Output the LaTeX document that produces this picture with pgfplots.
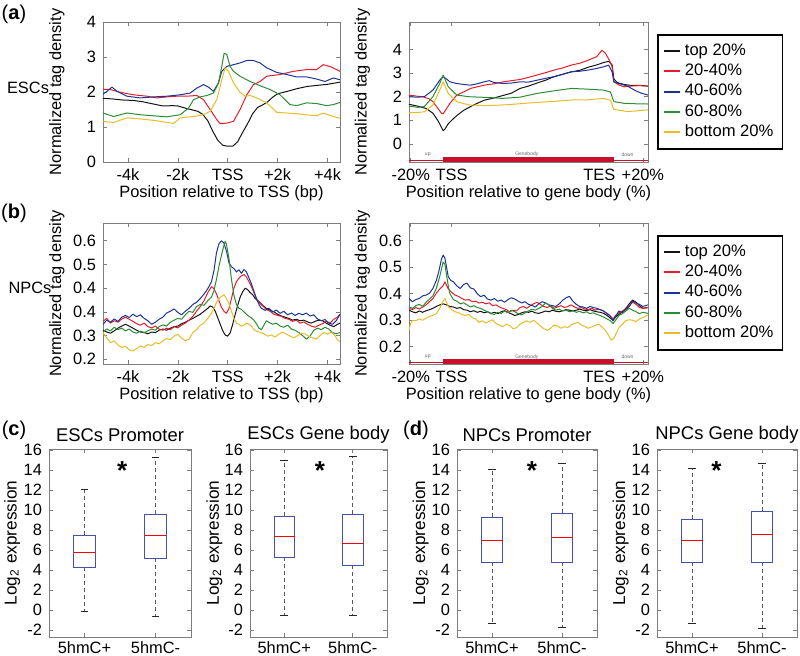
\documentclass[border=0pt]{standalone}
\usepackage{pgfplots}
\pgfplotsset{compat=1.18}
\usepgfplotslibrary{statistics}
\usepackage{fontspec}
\setmainfont{Liberation Sans}
\definecolor{cblk}{RGB}{20,20,20}
\definecolor{cred}{RGB}{226,30,42}
\definecolor{cblu}{RGB}{28,52,150}
\definecolor{cgrn}{RGB}{44,140,52}
\definecolor{cyel}{RGB}{232,188,40}
\definecolor{cbar}{RGB}{200,16,40}
\definecolor{cbox}{RGB}{70,82,170}
\definecolor{cframe}{RGB}{125,125,125}
\newcommand\fs{\fontsize{8.2}{9.6}\selectfont}
\pgfplotsset{
  base/.style={scale only axis, axis line style={cframe, line width=0.4pt},
    tick style={cframe, line width=0.3pt}, major tick length=2pt, tick align=inside,
    tick label style={font=\fs},
    /pgf/number format/assume math mode=true,
    every axis x label/.style={at={(axis description cs:0.5,-0.22)}, anchor=center, font=\fs},
    every axis y label/.style={at={(axis description cs:-0.195,0.5)}, anchor=center, rotate=90, font=\fs},
  },
  tss/.style={base, width=118.5pt, xmin=-5000, xmax=4500,
    xtick={-4000,-2000,0,2000,4000}, xticklabels={-4k,-2k,TSS,+2k,+4k},
    xlabel={Position relative to TSS (bp)}, ylabel={Normalized tag density}},
  gb/.style={base, width=119.5pt, xmin=-20, xmax=120,
    xtick={-19,5,91.5,117}, xticklabels={-20\%,TSS,TES,+20\%},
    xlabel={Position relative to gene body (\%)}, ylabel={Normalized tag density},
    legend cell align=left,
    legend style={at={(1,1)}, anchor=north west, xshift=4.5pt, yshift=-6pt, draw=black, line width=0.9pt,
      font=\fontsize{8.3}{9.5}\selectfont, inner xsep=2.5pt, inner ysep=2.5pt, row sep=-1.2pt},
    legend image code/.code={\draw[#1, line width=1pt] (0pt,0pt) -- (8pt,0pt);}},
  ln/.style={line width=0.5pt, line join=round},
  bxp/.style={base, height=94pt, xmin=0.5, xmax=2.5, ymin=-2.7, ymax=16.1,
    xtick={1,2}, xticklabels={5hmC+,5hmC-}, ytick={-2,0,2,4,6,8,10,12,14,16},
    yticklabels={-2,0,2,4,6,8,10,12,14,16},
    xticklabel style={yshift=1pt},
    ylabel={Log\textsubscript{2} expression},
    every axis y label/.style={at={(axis description cs:-0.26,0.5)}, anchor=center, rotate=90, font=\fontsize{8.6}{10}\selectfont},
    every axis title/.style={at={(0.5,1.074)}, anchor=center, font=\fontsize{9.2}{11}\selectfont},
    boxplot/draw direction=y,
    boxplot/every box/.style={draw=cbox, line width=0.45pt},
    boxplot/every median/.style={draw=red, line width=0.5pt},
    boxplot/every whisker/.style={draw=black!65, line width=0.45pt, dash pattern=on 2pt off 1.5pt}},
  cap/.style={black!85, line width=0.45pt},
}
\begin{document}
\begin{tikzpicture}
\path[use as bounding box] (0pt,0pt) rectangle (400pt,-328pt);
\node[font=\fontsize{10}{12}\selectfont] at (7pt,-7pt) {(\textbf{a})};
\node[font=\fontsize{10}{12}\selectfont] at (7pt,-106.5pt) {(\textbf{b})};
\node[font=\fontsize{10}{12}\selectfont] at (7pt,-215pt) {(\textbf{c})};
\node[font=\fontsize{10}{12}\selectfont] at (208pt,-215pt) {(\textbf{d})};
\node[font=\fs] at (14pt,-44pt) {ESCs};
\node[font=\fs] at (15pt,-144pt) {NPCs};

% ---------------- (a) left
\begin{axis}[tss, at={(51.5pt,-11pt)}, anchor=north west, height=70pt, ymin=0, ymax=4, ytick={0,1,2,3,4}]
\addplot[ln, cblk] coordinates {(-5000,1.82) (-4600,1.80) (-4200,1.77) (-3800,1.76) (-3400,1.72) (-3000,1.66) (-2600,1.60) (-2200,1.61) (-2000,1.60) (-1600,1.52) (-1200,1.45) (-1000,1.36) (-800,1.18) (-600,0.88) (-400,0.62) (-200,0.48) (0,0.45) (200,0.45) (400,0.58) (600,0.85) (800,1.10) (1000,1.38) (1200,1.56) (1400,1.63) (1600,1.72) (1800,1.85) (2000,1.95) (2400,2.02) (2800,2.10) (3200,2.16) (3600,2.19) (4000,2.22) (4500,2.28)};
\addplot[ln, cred] coordinates {(-5000,2.08) (-4707,2.07) (-4306,1.99) (-3773,1.92) (-3239,1.88) (-2839,1.83) (-2439,1.86) (-2039,1.88) (-1638,1.88) (-1238,1.90) (-971,1.78) (-705,1.50) (-438,1.21) (-304,1.10) (-38,1.11) (229,1.16) (496,1.50) (763,1.92) (1030,2.21) (1296,2.30) (1563,2.45) (2097,2.50) (2630,2.59) (3164,2.64) (3564,2.64) (3831,2.78) (4098,2.73) (4365,2.64) (4498,2.59)};
\addplot[ln, cblu] coordinates {(-5000,1.94) (-4840,2.02) (-4640,2.14) (-4440,2.02) (-4040,1.88) (-3506,1.83) (-2972,1.86) (-2439,1.88) (-1905,1.92) (-1505,1.97) (-1238,2.11) (-971,2.21) (-771,2.14) (-571,2.02) (-371,2.26) (-238,2.59) (-38,2.73) (229,2.78) (496,2.83) (763,2.90) (1030,2.90) (1296,2.83) (1563,2.69) (1963,2.56) (2364,2.50) (2764,2.43) (3164,2.43) (3564,2.37) (3898,2.30) (4231,2.40) (4498,2.35)};
\addplot[ln, cgrn] coordinates {(-5000,1.40) (-4573,1.30) (-4040,1.40) (-3506,1.35) (-2972,1.32) (-2439,1.29) (-1905,1.35) (-1572,1.54) (-1372,1.78) (-1105,1.86) (-838,1.90) (-571,1.97) (-371,2.26) (-238,2.73) (-144,3.11) (-38,3.07) (96,2.73) (229,2.59) (496,2.45) (896,2.30) (1296,2.18) (1697,2.07) (2097,1.92) (2497,1.64) (2764,1.61) (3164,1.69) (3564,1.67) (3964,1.61) (4231,1.64) (4498,1.70)};
\addplot[ln, cyel] coordinates {(-5000,1.16) (-4573,1.13) (-4040,1.26) (-3506,1.23) (-2972,1.19) (-2439,1.13) (-2172,1.10) (-1905,1.26) (-1372,1.30) (-971,1.35) (-705,1.45) (-438,1.78) (-238,2.35) (-104,2.69) (29,2.59) (229,2.26) (496,1.99) (696,1.88) (896,1.90) (1163,1.83) (1563,1.69) (1963,1.42) (2364,1.40) (2764,1.38) (3164,1.35) (3564,1.32) (3831,1.40) (4231,1.30) (4498,1.25)};
\end{axis}

% ---------------- (a) right
\begin{axis}[gb, at={(204.5pt,-11pt)}, anchor=north west, height=70pt, ymin=-0.77, ymax=5.17, ytick={0,1,2,3,4}]
\addplot[ln, cblk] coordinates {(-20,1.68) (-15,1.60) (-10,1.50) (-6,1.30) (-3,0.98) (-1,0.70) (0,0.56) (1,0.62) (3,0.85) (5,1.0) (8,1.20) (12,1.42) (16,1.58) (20,1.72) (24,1.85) (30,1.95) (35,2.05) (40,2.15) (45,2.35) (50,2.45) (55,2.58) (60,2.70) (65,2.85) (70,2.95) (75,3.05) (80,3.12) (85,3.25) (90,3.35) (94,3.45) (97,3.50) (99,3.35) (100,2.75) (102,2.60) (106,2.52) (110,2.48) (115,2.48) (120,2.45)};
\addlegendentry{top 20\%}
\addplot[ln, cred] coordinates {(-20,2.07) (-15,2.02) (-12,2.00) (-8,1.90) (-6,1.79) (-3,1.50) (-1,1.30) (0,1.27) (2,1.50) (4,1.72) (8,2.07) (12,2.20) (16,2.35) (20,2.42) (24,2.49) (30,2.55) (35,2.63) (40,2.68) (45,2.73) (50,2.82) (55,2.92) (60,3.02) (65,3.13) (70,3.22) (75,3.34) (80,3.42) (85,3.55) (90,3.70) (93,3.97) (95,3.85) (97,3.60) (99,3.27) (100,2.63) (103,2.50) (106,2.42) (110,2.45) (115,2.47) (120,2.45)};
\addlegendentry{20-40\%}
\addplot[ln, cblu] coordinates {(-20,2.00) (-15,1.98) (-11,2.00) (-6,2.28) (-2,2.70) (0,2.85) (2,2.75) (4,2.63) (8,2.56) (12,2.52) (16,2.49) (20,2.55) (24,2.63) (27,2.68) (30,2.60) (35,2.56) (40,2.58) (45,2.63) (50,2.62) (55,2.70) (60,2.78) (65,2.85) (70,2.95) (75,3.06) (80,3.08) (85,3.13) (90,3.20) (94,3.27) (97,3.34) (99,3.05) (100,2.63) (103,2.56) (108,2.45) (112,2.28) (116,2.15) (120,2.07)};
\addlegendentry{40-60\%}
\addplot[ln, cgrn] coordinates {(-20,1.60) (-15,1.55) (-11,1.58) (-6,2.00) (-2,2.56) (0,2.92) (3,2.42) (8,2.07) (15,2.00) (25,1.97) (35,1.93) (45,1.98) (55,2.14) (65,2.25) (75,2.35) (85,2.32) (94,2.28) (98,2.20) (100,1.79) (106,1.72) (113,1.70) (120,1.69)};
\addlegendentry{60-80\%}
\addplot[ln, cyel] coordinates {(-20,1.32) (-15,1.33) (-11,1.36) (-6,1.65) (-2,2.28) (0,2.63) (3,2.14) (8,1.79) (15,1.65) (25,1.62) (35,1.65) (45,1.70) (55,1.76) (65,1.80) (75,1.86) (85,1.87) (94,1.93) (98,1.85) (100,1.46) (108,1.37) (114,1.40) (120,1.44)};
\addlegendentry{bottom 20\%}
\addplot[cbar, line width=0.6pt, forget plot] coordinates {(-20,-0.70) (120,-0.70)};
\addplot[cbar, line width=3pt, forget plot] coordinates {(0,-0.68) (100,-0.68)};
\node[font=\fontsize{2.5}{3}\selectfont, text=black!60] at (axis cs:-9,-0.45) {up};
\node[font=\fontsize{2.5}{3}\selectfont, text=black!60] at (axis cs:49,-0.45) {Genebody};
\node[font=\fontsize{2.5}{3}\selectfont, text=black!60] at (axis cs:108,-0.45) {down};
\end{axis}

% ---------------- (b) left
\begin{axis}[tss, at={(51.5pt,-111.5pt)}, anchor=north west, height=70.5pt, ymin=0.184, ymax=0.66,
  ytick={0.2,0.28,0.36,0.44,0.52,0.6}, yticklabels={0.2,0.3,0.4,0.4,0.5,0.6}]
\addplot[ln, cblk] coordinates {(-5000,0.298) (-4850,0.292) (-4700,0.288) (-4550,0.296) (-4400,0.305) (-4250,0.312) (-4100,0.318) (-3950,0.312) (-3800,0.305) (-3650,0.298) (-3500,0.292) (-3350,0.290) (-3200,0.286) (-3050,0.292) (-2900,0.290) (-2750,0.298) (-2600,0.302) (-2450,0.298) (-2300,0.305) (-2150,0.310) (-2000,0.312) (-1850,0.320) (-1700,0.325) (-1550,0.332) (-1400,0.338) (-1250,0.345) (-1100,0.352) (-950,0.362) (-800,0.372) (-700,0.380) (-600,0.376) (-500,0.362) (-400,0.340) (-300,0.318) (-200,0.296) (-100,0.282) (0,0.278) (100,0.290) (200,0.318) (300,0.352) (400,0.382) (500,0.410) (600,0.428) (700,0.440) (800,0.435) (900,0.425) (1000,0.418) (1100,0.405) (1250,0.395) (1400,0.382) (1550,0.372) (1700,0.365) (1850,0.360) (2000,0.352) (2150,0.346) (2300,0.342) (2450,0.338) (2600,0.332) (2750,0.335) (2900,0.330) (3050,0.332) (3200,0.326) (3350,0.322) (3500,0.328) (3650,0.332) (3800,0.330) (3950,0.322) (4100,0.315) (4250,0.310) (4400,0.318) (4500,0.322)};
\addplot[ln, cred] coordinates {(-5000,0.328) (-4850,0.338) (-4700,0.322) (-4550,0.330) (-4400,0.325) (-4250,0.336) (-4100,0.342) (-3950,0.335) (-3800,0.328) (-3650,0.320) (-3500,0.315) (-3350,0.322) (-3200,0.310) (-3050,0.306) (-2900,0.312) (-2750,0.302) (-2600,0.298) (-2450,0.305) (-2300,0.300) (-2150,0.310) (-2000,0.306) (-1850,0.315) (-1700,0.322) (-1550,0.332) (-1400,0.345) (-1250,0.362) (-1100,0.378) (-950,0.398) (-800,0.425) (-650,0.445) (-550,0.438) (-450,0.420) (-350,0.398) (-250,0.375) (-150,0.362) (-50,0.355) (50,0.372) (150,0.405) (250,0.440) (350,0.462) (450,0.474) (550,0.482) (650,0.486) (750,0.478) (850,0.462) (950,0.445) (1050,0.425) (1150,0.405) (1250,0.392) (1400,0.380) (1550,0.368) (1700,0.362) (1850,0.352) (2000,0.348) (2150,0.345) (2300,0.338) (2450,0.335) (2600,0.328) (2750,0.332) (2900,0.322) (3050,0.326) (3200,0.318) (3350,0.312) (3500,0.308) (3650,0.315) (3800,0.320) (3950,0.328) (4100,0.322) (4250,0.335) (4400,0.342) (4500,0.352)};
\addplot[ln, cblu] coordinates {(-5000,0.318) (-4850,0.332) (-4700,0.325) (-4550,0.336) (-4400,0.328) (-4250,0.342) (-4100,0.348) (-3950,0.341) (-3800,0.352) (-3650,0.344) (-3500,0.350) (-3350,0.338) (-3200,0.330) (-3050,0.318) (-2900,0.325) (-2750,0.335) (-2600,0.342) (-2450,0.356) (-2300,0.362) (-2150,0.370) (-2000,0.358) (-1850,0.350) (-1700,0.362) (-1550,0.372) (-1400,0.385) (-1250,0.392) (-1100,0.405) (-950,0.420) (-800,0.438) (-650,0.462) (-550,0.500) (-450,0.560) (-350,0.590) (-250,0.600) (-150,0.592) (-50,0.565) (50,0.525) (150,0.512) (250,0.506) (350,0.495) (450,0.502) (550,0.490) (650,0.503) (750,0.495) (850,0.475) (950,0.455) (1050,0.430) (1150,0.405) (1250,0.385) (1350,0.372) (1500,0.365) (1650,0.372) (1800,0.360) (1950,0.366) (2100,0.355) (2250,0.362) (2400,0.350) (2550,0.356) (2700,0.348) (2850,0.355) (3000,0.350) (3150,0.356) (3300,0.346) (3450,0.350) (3600,0.336) (3750,0.330) (3900,0.334) (4050,0.322) (4200,0.318) (4350,0.330) (4500,0.352)};
\addplot[ln, cgrn] coordinates {(-5000,0.292) (-4850,0.302) (-4700,0.296) (-4550,0.308) (-4400,0.300) (-4250,0.305) (-4100,0.296) (-3950,0.302) (-3800,0.292) (-3650,0.288) (-3500,0.295) (-3350,0.290) (-3200,0.296) (-3050,0.302) (-2900,0.298) (-2750,0.310) (-2600,0.316) (-2450,0.312) (-2300,0.325) (-2150,0.332) (-2000,0.338) (-1850,0.335) (-1700,0.350) (-1550,0.362) (-1400,0.358) (-1250,0.378) (-1100,0.385) (-950,0.382) (-800,0.398) (-650,0.410) (-550,0.432) (-450,0.470) (-350,0.515) (-250,0.552) (-150,0.585) (-100,0.598) (-50,0.588) (50,0.540) (150,0.470) (250,0.415) (350,0.385) (450,0.372) (550,0.368) (650,0.360) (750,0.352) (850,0.345) (950,0.340) (1050,0.332) (1150,0.320) (1250,0.305) (1350,0.300) (1450,0.315) (1550,0.330) (1650,0.325) (1800,0.318) (1950,0.322) (2100,0.312) (2250,0.308) (2400,0.315) (2550,0.302) (2700,0.298) (2850,0.290) (3000,0.280) (3150,0.268) (3300,0.278) (3450,0.298) (3600,0.305) (3750,0.300) (3900,0.308) (4050,0.302) (4200,0.290) (4350,0.286) (4500,0.290)};
\addplot[ln, cyel] coordinates {(-5000,0.290) (-4850,0.272) (-4700,0.256) (-4550,0.262) (-4400,0.248) (-4250,0.240) (-4100,0.244) (-3950,0.232) (-3800,0.228) (-3650,0.236) (-3500,0.245) (-3350,0.240) (-3200,0.250) (-3050,0.246) (-2900,0.256) (-2750,0.252) (-2600,0.262) (-2450,0.270) (-2300,0.266) (-2150,0.278) (-2000,0.284) (-1850,0.272) (-1700,0.262) (-1550,0.268) (-1400,0.290) (-1250,0.300) (-1100,0.315) (-950,0.322) (-800,0.338) (-650,0.355) (-550,0.372) (-450,0.392) (-350,0.405) (-250,0.412) (-150,0.418) (-50,0.405) (50,0.388) (150,0.362) (250,0.338) (350,0.322) (450,0.318) (550,0.312) (650,0.315) (750,0.322) (850,0.318) (950,0.312) (1050,0.300) (1150,0.295) (1300,0.290) (1450,0.286) (1600,0.278) (1750,0.282) (1900,0.275) (2050,0.285) (2200,0.292) (2350,0.285) (2500,0.278) (2650,0.272) (2800,0.280) (2950,0.288) (3100,0.285) (3250,0.278) (3400,0.272) (3550,0.268) (3700,0.280) (3850,0.290) (4000,0.285) (4150,0.292) (4300,0.280) (4400,0.265) (4500,0.260)};
\end{axis}

% ---------------- (b) right
\begin{axis}[gb, at={(204.5pt,-111.5pt)}, anchor=north west, height=70.5pt, ymin=0.135, ymax=0.667,
  ytick={0.2,0.3,0.4,0.5,0.6}, yticklabels={0.2,0.3,0.4,0.5,0.6}]
\addplot[ln, cblk] coordinates {(-20,0.338) (-18,0.332) (-16,0.328) (-14,0.335) (-12,0.330) (-10,0.336) (-8,0.340) (-6,0.345) (-4,0.352) (-2,0.358) (0,0.362) (2,0.358) (4,0.352) (6,0.350) (8,0.345) (10,0.348) (12,0.340) (14,0.338) (16,0.332) (18,0.336) (20,0.330) (22,0.334) (24,0.328) (26,0.332) (28,0.326) (30,0.330) (32,0.325) (34,0.332) (36,0.336) (38,0.330) (40,0.324) (42,0.318) (44,0.322) (46,0.328) (48,0.332) (50,0.330) (52,0.334) (54,0.328) (56,0.326) (58,0.330) (60,0.335) (62,0.332) (64,0.338) (66,0.334) (68,0.332) (70,0.336) (72,0.340) (74,0.338) (76,0.335) (78,0.338) (80,0.342) (82,0.338) (84,0.336) (86,0.340) (88,0.335) (90,0.332) (92,0.330) (94,0.326) (96,0.318) (98,0.308) (99.5,0.300) (101,0.312) (103,0.322) (105,0.332) (107,0.345) (109,0.362) (111,0.376) (113,0.368) (115,0.355) (117,0.345) (120,0.348)};
\addlegendentry{top 20\%}
\addplot[ln, cred] coordinates {(-20,0.345) (-18,0.340) (-16,0.348) (-14,0.342) (-12,0.350) (-10,0.358) (-8,0.370) (-6,0.382) (-4,0.402) (-2,0.418) (0,0.430) (1,0.445) (2,0.432) (3,0.418) (5,0.405) (7,0.395) (9,0.390) (11,0.382) (13,0.376) (15,0.378) (17,0.370) (19,0.372) (21,0.365) (23,0.368) (25,0.362) (27,0.366) (29,0.355) (31,0.358) (33,0.350) (35,0.345) (37,0.340) (39,0.332) (41,0.338) (43,0.335) (45,0.348) (47,0.352) (49,0.345) (51,0.355) (53,0.362) (55,0.368) (57,0.360) (59,0.352) (61,0.348) (63,0.355) (65,0.345) (67,0.350) (69,0.355) (71,0.348) (73,0.352) (75,0.358) (77,0.350) (79,0.345) (81,0.348) (83,0.342) (85,0.340) (87,0.345) (89,0.338) (91,0.342) (93,0.338) (95,0.330) (97,0.322) (99.5,0.305) (101,0.318) (103,0.328) (105,0.335) (107,0.342) (109,0.355) (111,0.368) (113,0.360) (115,0.348) (117,0.345) (120,0.348)};
\addlegendentry{20-40\%}
\addplot[ln, cblu] coordinates {(-20,0.382) (-18,0.370) (-16,0.378) (-14,0.382) (-12,0.392) (-10,0.395) (-8,0.402) (-6,0.420) (-4,0.450) (-2.5,0.485) (-1,0.530) (0,0.546) (1,0.535) (2,0.500) (3,0.464) (4.5,0.450) (6,0.445) (8,0.430) (10,0.420) (12,0.435) (14,0.440) (16,0.422) (18,0.418) (20,0.400) (22,0.389) (24,0.395) (26,0.380) (28,0.376) (30,0.382) (32,0.372) (34,0.376) (36,0.368) (38,0.378) (40,0.385) (42,0.380) (44,0.372) (46,0.365) (48,0.370) (50,0.360) (52,0.356) (54,0.350) (56,0.362) (58,0.370) (60,0.365) (62,0.358) (64,0.355) (66,0.352) (68,0.362) (70,0.375) (72,0.385) (74,0.390) (76,0.372) (78,0.360) (80,0.352) (82,0.350) (84,0.345) (86,0.352) (88,0.348) (90,0.345) (92,0.340) (94,0.335) (96,0.325) (98,0.315) (99.5,0.298) (101,0.315) (103,0.335) (105,0.328) (107,0.340) (109,0.352) (111,0.372) (113,0.365) (115,0.360) (117,0.352) (120,0.358)};
\addlegendentry{40-60\%}
\addplot[ln, cgrn] coordinates {(-20,0.351) (-18,0.345) (-16,0.355) (-14,0.360) (-12,0.352) (-10,0.368) (-8,0.380) (-6,0.392) (-4,0.420) (-2,0.465) (0,0.520) (1,0.512) (2,0.470) (3,0.430) (4,0.400) (6,0.378) (8,0.372) (10,0.362) (12,0.366) (14,0.358) (16,0.350) (18,0.355) (20,0.348) (22,0.345) (24,0.338) (26,0.332) (28,0.325) (30,0.322) (32,0.330) (34,0.326) (36,0.335) (38,0.328) (40,0.338) (42,0.332) (44,0.325) (46,0.320) (48,0.328) (50,0.335) (52,0.342) (54,0.338) (56,0.345) (58,0.352) (60,0.365) (62,0.358) (64,0.345) (66,0.338) (68,0.342) (70,0.335) (72,0.338) (74,0.332) (76,0.336) (78,0.330) (80,0.334) (82,0.328) (84,0.332) (86,0.325) (88,0.328) (90,0.322) (92,0.318) (94,0.312) (96,0.305) (98,0.298) (99.5,0.288) (101,0.300) (103,0.318) (105,0.325) (107,0.335) (109,0.345) (111,0.338) (113,0.332) (115,0.325) (117,0.330) (120,0.326)};
\addlegendentry{60-80\%}
\addplot[ln, cyel] coordinates {(-20,0.262) (-19,0.290) (-18,0.300) (-16,0.298) (-14,0.305) (-12,0.300) (-10,0.308) (-8,0.315) (-6,0.318) (-4,0.325) (-2,0.345) (0,0.372) (1,0.382) (2,0.368) (3,0.352) (5,0.340) (7,0.332) (9,0.328) (11,0.322) (13,0.318) (15,0.322) (17,0.310) (19,0.305) (21,0.292) (23,0.298) (25,0.290) (27,0.296) (29,0.302) (31,0.288) (33,0.282) (35,0.276) (37,0.285) (39,0.280) (41,0.268) (43,0.272) (45,0.285) (47,0.292) (49,0.298) (51,0.292) (53,0.300) (55,0.290) (57,0.278) (59,0.268) (61,0.262) (63,0.270) (65,0.282) (67,0.278) (69,0.270) (71,0.276) (73,0.272) (75,0.282) (77,0.288) (79,0.292) (81,0.282) (83,0.276) (85,0.270) (87,0.275) (89,0.280) (91,0.286) (93,0.275) (95,0.262) (97,0.242) (98.5,0.225) (100,0.232) (101.5,0.252) (103,0.272) (105,0.285) (107,0.298) (109,0.302) (111,0.300) (113,0.295) (115,0.305) (117,0.310) (120,0.320)};
\addlegendentry{bottom 20\%}
\addplot[cbar, line width=0.6pt, forget plot] coordinates {(-20,0.141) (120,0.141)};
\addplot[cbar, line width=3pt, forget plot] coordinates {(0,0.1435) (100,0.1435)};
\node[font=\fontsize{2.5}{3}\selectfont, text=black!60] at (axis cs:-9,0.161) {up};
\node[font=\fontsize{2.5}{3}\selectfont, text=black!60] at (axis cs:49,0.161) {Genebody};
\node[font=\fontsize{2.5}{3}\selectfont, text=black!60] at (axis cs:108,0.161) {down};
\end{axis}

% ---------------- (c) left
\begin{axis}[bxp, at={(24.5pt,-224.5pt)}, anchor=north west, width=71pt, title={ESCs Promoter}]
\addplot[boxplot prepared={draw position=1, lower whisker=-0.1, lower quartile=4.3, median=5.7, upper quartile=7.5, upper whisker=12.1, box extend=0.3, whisker extend=0}] coordinates {};
\addplot[boxplot prepared={draw position=2, lower whisker=-0.6, lower quartile=5.2, median=7.4, upper quartile=9.6, upper whisker=15.3, box extend=0.3, whisker extend=0}] coordinates {};
\addplot[cap] coordinates {(0.945,12.1) (1.055,12.1)};
\addplot[cap] coordinates {(0.945,-0.1) (1.055,-0.1)};
\addplot[cap] coordinates {(1.945,15.3) (2.055,15.3)};
\addplot[cap] coordinates {(1.945,-0.6) (2.055,-0.6)};
\node[anchor=north, inner sep=0pt, font=\fontsize{13}{13}\selectfont\bfseries] at (axis cs:1.53,14.85) {*};
\end{axis}

% ---------------- (c) right
\begin{axis}[bxp, at={(125pt,-224.5pt)}, anchor=north west, width=68.5pt, title={ESCs Gene body}]
\addplot[boxplot prepared={draw position=1, lower whisker=-0.5, lower quartile=5.3, median=7.3, upper quartile=9.4, upper whisker=15.0, box extend=0.3, whisker extend=0}] coordinates {};
\addplot[boxplot prepared={draw position=2, lower whisker=-0.5, lower quartile=4.5, median=6.6, upper quartile=9.6, upper whisker=15.4, box extend=0.3, whisker extend=0}] coordinates {};
\addplot[cap] coordinates {(0.945,15.0) (1.055,15.0)};
\addplot[cap] coordinates {(0.945,-0.5) (1.055,-0.5)};
\addplot[cap] coordinates {(1.945,15.4) (2.055,15.4)};
\addplot[cap] coordinates {(1.945,-0.5) (2.055,-0.5)};
\node[anchor=north, inner sep=0pt, font=\fontsize{13}{13}\selectfont\bfseries] at (axis cs:1.52,14.85) {*};
\end{axis}

% ---------------- (d) left
\begin{axis}[bxp, at={(228.5pt,-224.5pt)}, anchor=north west, width=70pt, title={NPCs Promoter}]
\addplot[boxplot prepared={draw position=1, lower whisker=-1.3, lower quartile=4.8, median=6.9, upper quartile=9.3, upper whisker=14.1, box extend=0.3, whisker extend=0}] coordinates {};
\addplot[boxplot prepared={draw position=2, lower whisker=-1.75, lower quartile=4.8, median=7.2, upper quartile=9.7, upper whisker=14.7, box extend=0.3, whisker extend=0}] coordinates {};
\addplot[cap] coordinates {(0.945,14.1) (1.055,14.1)};
\addplot[cap] coordinates {(0.945,-1.3) (1.055,-1.3)};
\addplot[cap] coordinates {(1.945,14.7) (2.055,14.7)};
\addplot[cap] coordinates {(1.945,-1.75) (2.055,-1.75)};
\node[anchor=north, inner sep=0pt, font=\fontsize{13}{13}\selectfont\bfseries] at (axis cs:1.57,14.85) {*};
\end{axis}

% ---------------- (d) right
\begin{axis}[bxp, at={(328.5pt,-224.5pt)}, anchor=north west, width=70pt, title={NPCs Gene body}]
\addplot[boxplot prepared={draw position=1, lower whisker=-1.3, lower quartile=4.8, median=6.9, upper quartile=9.1, upper whisker=14.2, box extend=0.3, whisker extend=0}] coordinates {};
\addplot[boxplot prepared={draw position=2, lower whisker=-1.8, lower quartile=4.8, median=7.5, upper quartile=9.9, upper whisker=14.7, box extend=0.3, whisker extend=0}] coordinates {};
\addplot[cap] coordinates {(0.945,14.2) (1.055,14.2)};
\addplot[cap] coordinates {(0.945,-1.3) (1.055,-1.3)};
\addplot[cap] coordinates {(1.945,14.7) (2.055,14.7)};
\addplot[cap] coordinates {(1.945,-1.8) (2.055,-1.8)};
\node[anchor=north, inner sep=0pt, font=\fontsize{13}{13}\selectfont\bfseries] at (axis cs:1.35,14.85) {*};
\end{axis}
\end{tikzpicture}
\end{document}
